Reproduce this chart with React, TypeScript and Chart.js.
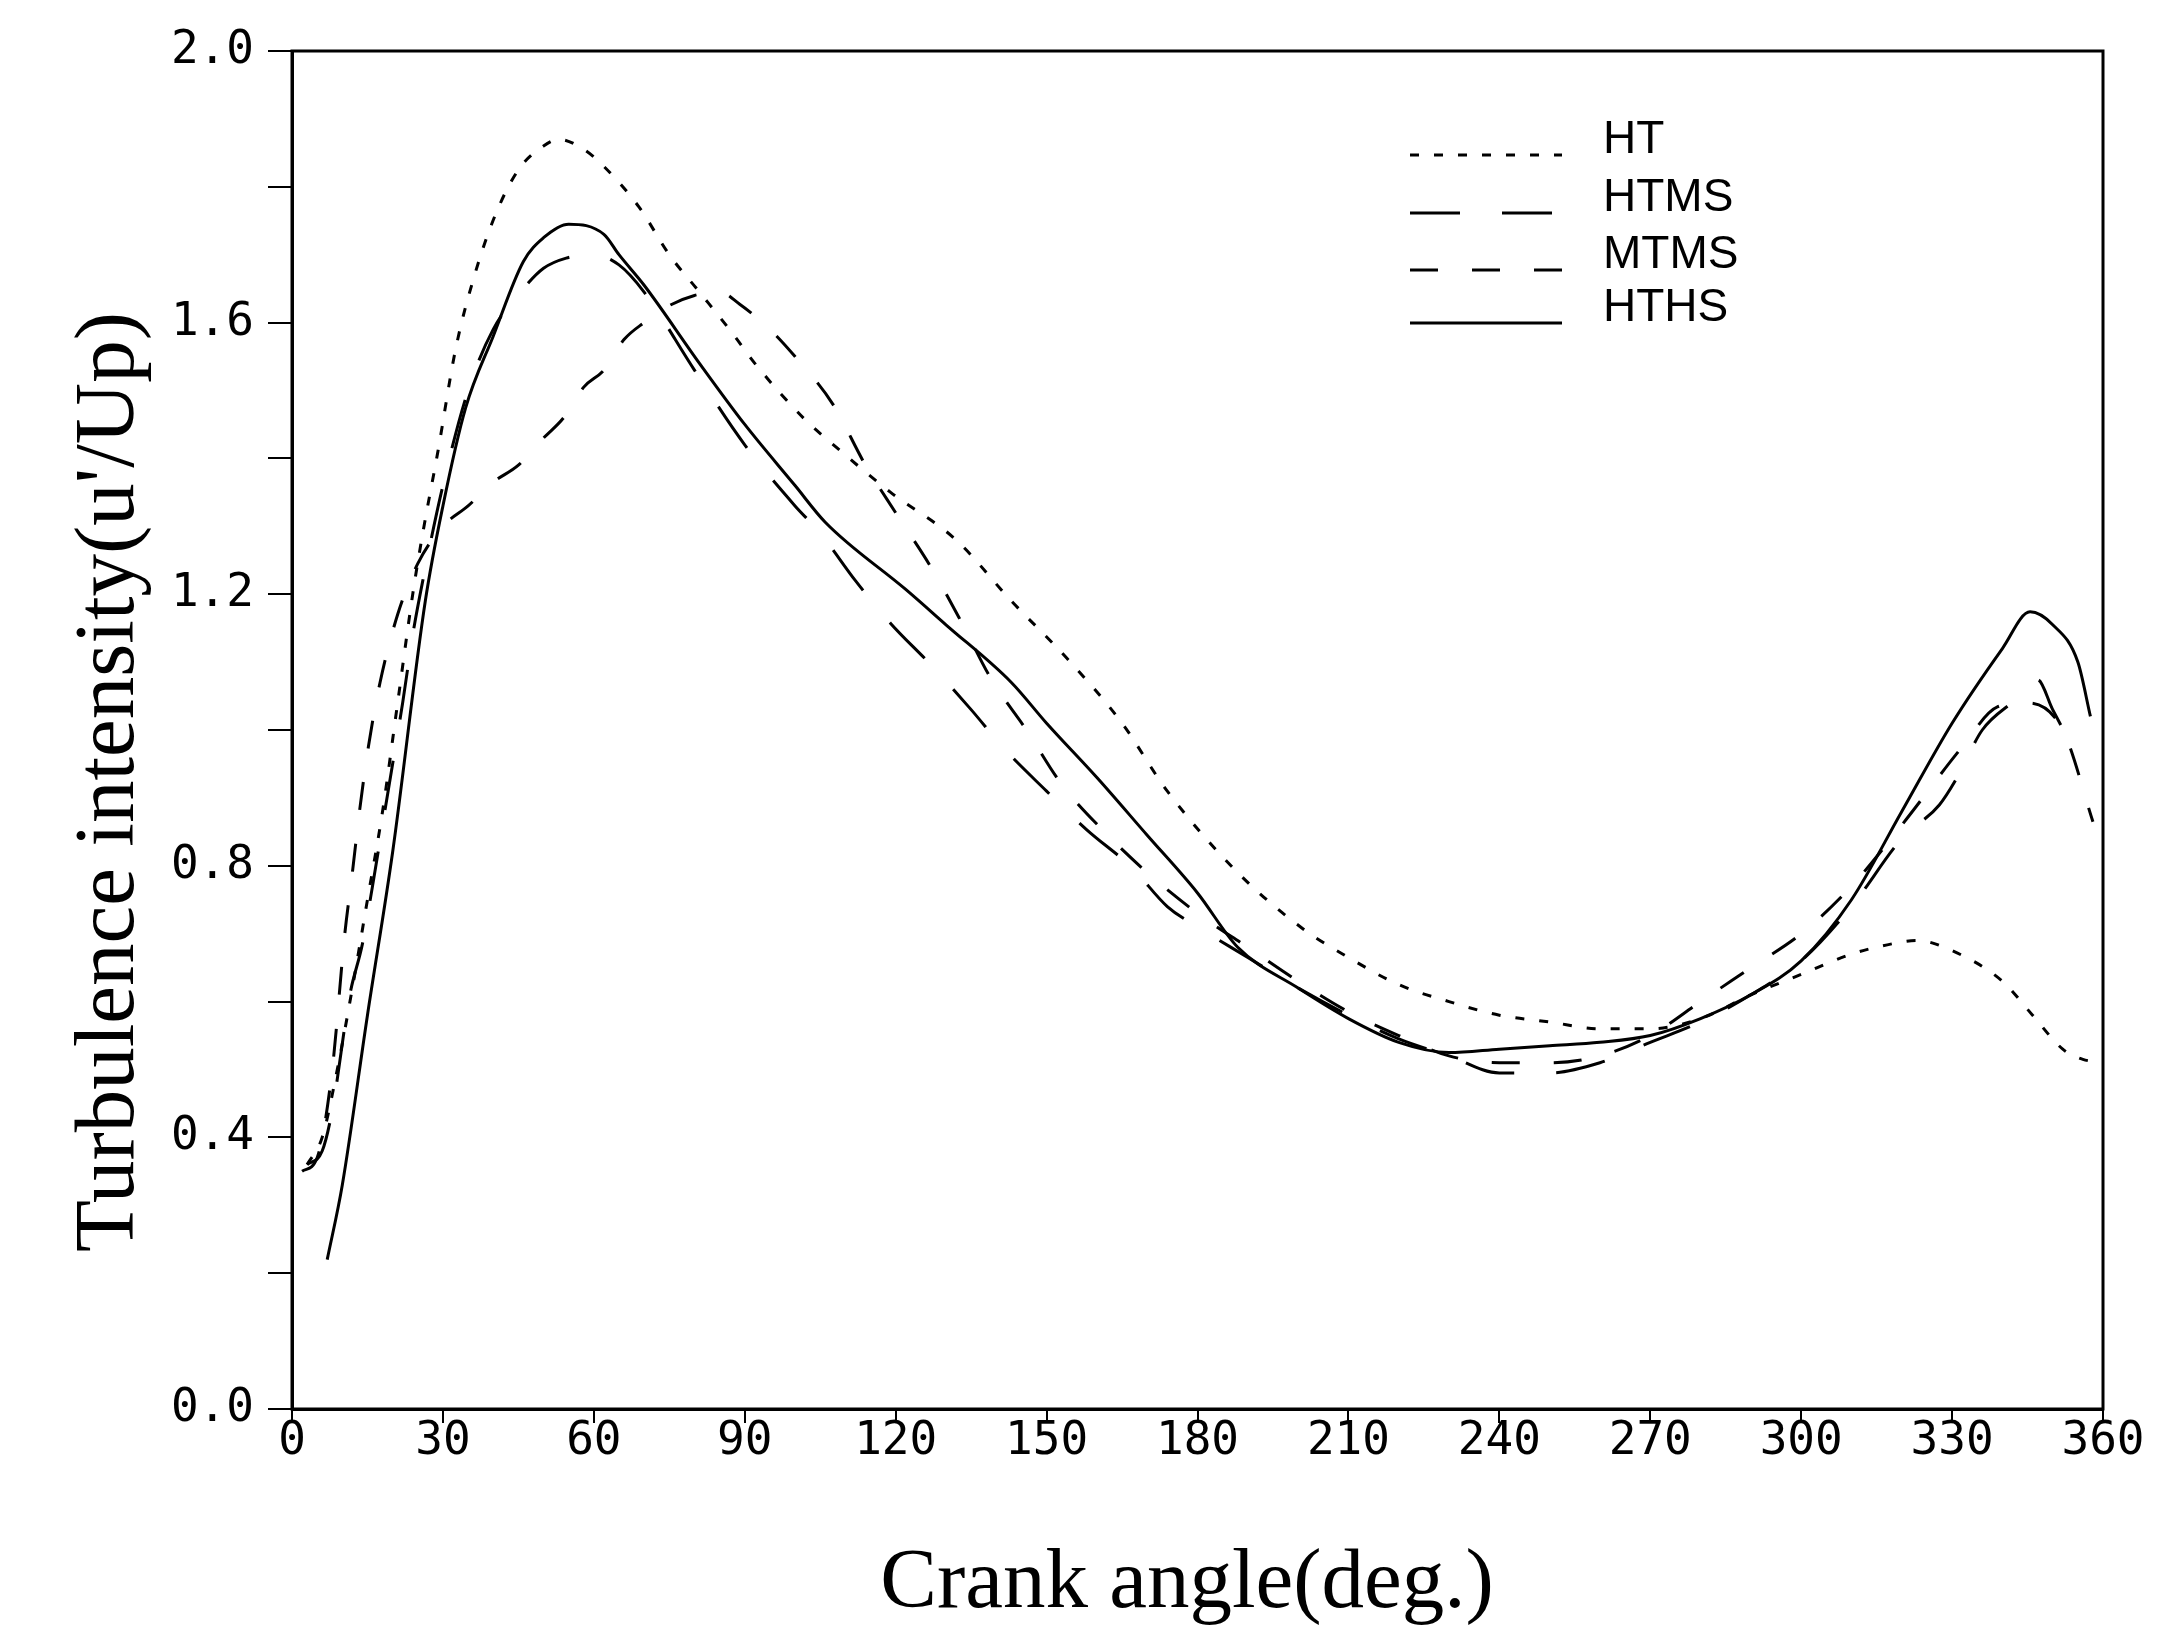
import { useEffect, useRef } from "react";
import { Chart, registerables } from "chart.js";

Chart.register(...registerables);

// ---- data (crank angle in deg, turbulence intensity u'/Up) ----
const seriesNames = ["HT", "HTMS", "MTMS", "HTHS"];

const htX = [3, 6, 9, 12, 15, 18, 21, 24, 26, 29, 32.5, 36.5, 40.5, 45, 50, 53, 58, 62, 69, 75, 81, 88, 92, 102, 107, 119, 132, 143, 154, 165, 174, 188, 201, 210, 220, 230, 240, 250, 260, 270, 280, 290, 300, 310, 318, 323, 330, 340, 346, 352, 356, 360];
const htY = [0.36, 0.40, 0.50, 0.62, 0.75, 0.88, 1.04, 1.20, 1.29, 1.41, 1.56, 1.675, 1.76, 1.825, 1.86, 1.87, 1.855, 1.83, 1.77, 1.70, 1.645, 1.58, 1.54, 1.457, 1.424, 1.35, 1.28, 1.19, 1.106, 1.01, 0.91, 0.79, 0.707, 0.665, 0.625, 0.60, 0.58, 0.57, 0.56, 0.56, 0.575, 0.61, 0.64, 0.67, 0.685, 0.69, 0.675, 0.63, 0.58, 0.53, 0.515, 0.51];

const htmsX = [3, 6, 8, 11.5, 14, 16, 18, 20, 22, 24, 26, 30, 35, 40, 46, 50, 54.5, 60, 65, 70, 80, 90, 100, 105, 112, 119, 127, 135, 141.5, 150, 158, 167, 174, 180, 190, 200, 210, 220, 230, 240, 250, 260, 270, 280, 290, 300, 310, 320, 327.5, 331, 336, 342.5, 347, 350, 355];
const htmsY = [0.36, 0.38, 0.44, 0.61, 0.685, 0.77, 0.86, 0.95, 1.04, 1.14, 1.22, 1.36, 1.50, 1.59, 1.65, 1.68, 1.695, 1.70, 1.685, 1.645, 1.53, 1.42, 1.33, 1.29, 1.22, 1.157, 1.096, 1.03, 0.973, 0.91, 0.853, 0.797, 0.74, 0.71, 0.665, 0.62, 0.58, 0.545, 0.52, 0.495, 0.495, 0.51, 0.54, 0.57, 0.61, 0.66, 0.74, 0.84, 0.89, 0.93, 1.0, 1.044, 1.074, 1.03, 0.96];

const mtmsX = [2, 5, 8, 10.5, 12, 13.5, 15.2, 17.5, 21, 25, 30, 35, 40, 45, 50, 54, 58, 62, 66, 70, 75, 80, 85, 89, 95, 100, 107.5, 114, 120, 127, 133, 139, 146, 153, 161.5, 170, 180, 190, 200, 210, 220, 230, 240, 250, 260, 270, 280, 290, 300, 310, 320, 332, 339, 345, 352, 358];
const mtmsY = [0.35, 0.37, 0.50, 0.70, 0.79, 0.885, 0.976, 1.07, 1.17, 1.245, 1.30, 1.33, 1.365, 1.39, 1.43, 1.46, 1.505, 1.53, 1.575, 1.60, 1.625, 1.64, 1.645, 1.627, 1.59, 1.55, 1.48, 1.39, 1.32, 1.24, 1.16, 1.075, 1.0, 0.92, 0.85, 0.79, 0.73, 0.68, 0.63, 0.585, 0.55, 0.52, 0.51, 0.51, 0.52, 0.55, 0.60, 0.65, 0.70, 0.77, 0.86, 0.975, 1.034, 1.04, 1.00, 0.865];

const hthsX = [7, 10, 15, 20, 26.5, 30, 34.5, 40, 46, 50, 55, 62, 65, 70, 81, 90, 100, 106, 122, 130, 143, 150, 160, 170, 180, 188, 200, 210, 220, 230, 240, 250, 260, 270, 280, 290, 300, 310, 320, 330, 340, 345.5, 350, 355, 357.5];
const hthsY = [0.22, 0.33, 0.58, 0.82, 1.19, 1.33, 1.474, 1.58, 1.69, 1.725, 1.745, 1.73, 1.70, 1.655, 1.54, 1.45, 1.36, 1.306, 1.207, 1.155, 1.07, 1.01, 0.93, 0.845, 0.76, 0.68, 0.62, 0.575, 0.54, 0.525, 0.53, 0.535, 0.54, 0.55, 0.575, 0.61, 0.66, 0.75, 0.88, 1.01, 1.12, 1.174, 1.155, 1.10, 1.02];

const xTitle = "Crank angle(deg.)";
const yTitle = "Turbulence intensity(u'/Up)";
const xMin = 0, xMax = 360, xStep = 30;
const yMin = 0, yMax = 2.0, yStep = 0.2, yLabelEvery = 0.4;

const seriesX = [htX, htmsX, mtmsX, hthsX];
const seriesY = [htY, htmsY, mtmsY, hthsY];
const dashes: number[][] = [[9, 15], [50, 42], [28, 34], []];

const decorPlugin = {
  id: "decor",
  afterDraw(chart: any) {
    const { ctx, chartArea: a } = chart;
    ctx.save();
    ctx.strokeStyle = "#000";
    ctx.lineWidth = 3;
    ctx.setLineDash([]);
    ctx.strokeRect(a.left, a.top, a.right - a.left, a.bottom - a.top);

    // axis titles
    ctx.fillStyle = "#000";
    ctx.font = '85px "Liberation Serif"';
    ctx.textAlign = "center";
    ctx.textBaseline = "middle";
    ctx.fillText(xTitle, 1187, 1585);
    ctx.save();
    ctx.translate(111, 782);
    ctx.rotate(-Math.PI / 2);
    ctx.fillText(yTitle, 0, 0);
    ctx.restore();

    // legend
    const ly = [155, 213, 270, 323];
    ctx.font = '46px "Liberation Sans"';
    ctx.textAlign = "left";
    ctx.textBaseline = "alphabetic";
    chart.data.datasets.forEach((ds: any, i: number) => {
      ctx.beginPath();
      ctx.lineWidth = 3;
      ctx.setLineDash(ds.borderDash || []);
      ctx.moveTo(1410, ly[i]);
      ctx.lineTo(1562, ly[i]);
      ctx.stroke();
      ctx.setLineDash([]);
      ctx.fillText(ds.label, 1603, ly[i] - 2);
    });
    ctx.restore();
  },
};

export default function App() {
  const ref = useRef<HTMLCanvasElement | null>(null);
  useEffect(() => {
    document.body.style.margin = "0";
    const canvas = ref.current!;
    const chart = new Chart(canvas, {
      type: "line",
      data: {
        datasets: seriesNames.map((name, i) => ({
          label: name,
          data: seriesX[i].map((x, j) => ({ x, y: seriesY[i][j] })),
          borderColor: "#000",
          backgroundColor: "#000",
          borderWidth: 3,
          borderDash: dashes[i],
          pointRadius: 0,
          fill: false,
          cubicInterpolationMode: "monotone" as const,
        })),
      },
      options: {
        responsive: false,
        animation: false,
        devicePixelRatio: 1,
        layout: { padding: { top: 51, right: 78, left: 0, bottom: 0 } },
        plugins: { legend: { display: false }, tooltip: { enabled: false } },
        scales: {
          x: {
            type: "linear",
            min: xMin,
            max: xMax,
            afterFit: (s: any) => { s.height = 218; },
            ticks: {
              stepSize: xStep,
              color: "#000",
              padding: -9,
              maxRotation: 0,
              autoSkip: false,
              font: { family: "DejaVu Sans Mono", size: 46 },
              callback: (v: any) => String(v),
            },
            grid: { drawOnChartArea: false, drawTicks: true, tickLength: 14, color: "#000", lineWidth: 2 },
            border: { display: true, color: "#000", width: 3 },
          },
          y: {
            type: "linear",
            min: yMin,
            max: yMax,
            afterFit: (s: any) => { s.width = 292; },
            ticks: {
              stepSize: yStep,
              color: "#000",
              padding: 14,
              autoSkip: false,
              font: { family: "DejaVu Sans Mono", size: 46 },
              callback: (v: any) => {
                const k = Math.round(Number(v) / yStep);
                return k % Math.round(yLabelEvery / yStep) === 0 ? Number(v).toFixed(1) : "";
              },
            },
            grid: { drawOnChartArea: false, drawTicks: true, tickLength: 24, color: "#000", lineWidth: 2 },
            border: { display: true, color: "#000", width: 3 },
          },
        },
      },
      plugins: [decorPlugin],
    });
    return () => chart.destroy();
  }, []);
  return <canvas ref={ref} width={2181} height={1627} style={{ display: "block", width: 2181, height: 1627 }} />;
}
